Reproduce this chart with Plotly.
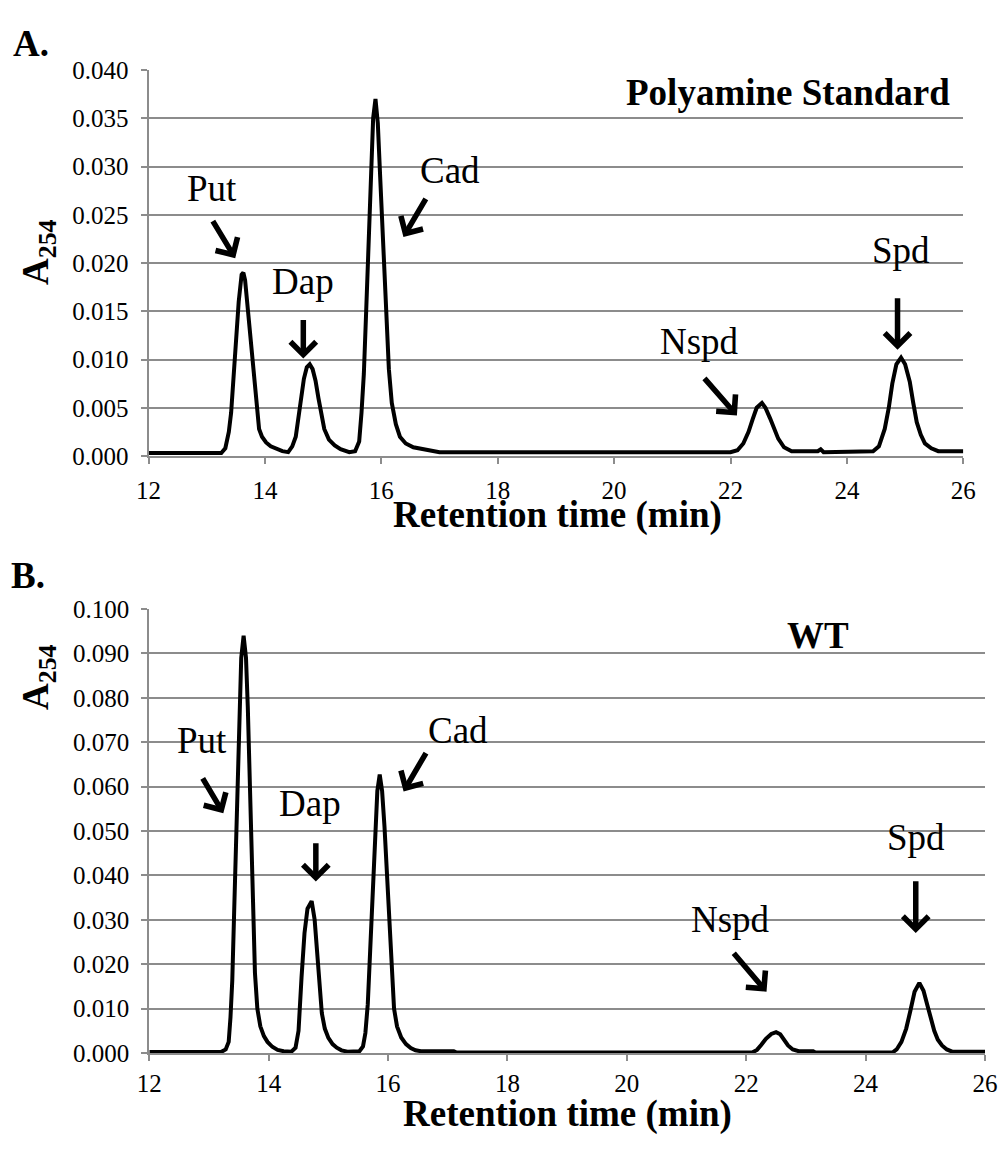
import plotly.graph_objects as go

# ---------------- data ----------------
std_time = [12.0, 13.25, 13.32, 13.38, 13.42, 13.46, 13.50, 13.55, 13.60, 13.63, 13.66, 13.71, 13.76, 13.81,
            13.86, 13.90, 13.95, 14.02, 14.10, 14.20, 14.30, 14.40, 14.47, 14.53, 14.58, 14.62, 14.67, 14.72,
            14.77, 14.82, 14.87, 14.92, 14.97, 15.02, 15.10, 15.20, 15.30, 15.45, 15.55, 15.62, 15.66, 15.70,
            15.74, 15.78, 15.82, 15.86, 15.90, 15.94, 15.98, 16.03, 16.08, 16.13, 16.18, 16.25, 16.32, 16.42,
            16.55, 16.70, 16.85, 17.0, 22.0, 22.12, 22.22, 22.31, 22.38, 22.45, 22.54, 22.60, 22.68, 22.75,
            22.82, 22.92, 23.05, 23.5, 23.55, 23.6, 24.3, 24.45, 24.55, 24.65, 24.72, 24.78, 24.85, 24.93,
            25.00, 25.08, 25.14, 25.20, 25.27, 25.34, 25.45, 25.57, 26.0]
std_abs = [0.0003, 0.0003, 0.0008, 0.0025, 0.0045, 0.0080, 0.0115, 0.0160, 0.0188, 0.0190, 0.0182, 0.0150,
           0.0115, 0.0075, 0.0045, 0.0028, 0.0020, 0.0014, 0.0010, 0.0007, 0.0005, 0.0004, 0.0010, 0.0020,
           0.0040, 0.0060, 0.0080, 0.0092, 0.0095, 0.0090, 0.0078, 0.0060, 0.0042, 0.0028, 0.0017, 0.0011,
           0.0007, 0.0004, 0.0005, 0.0015, 0.0045, 0.0085, 0.0150, 0.0220, 0.0290, 0.0350, 0.0370, 0.0345,
           0.0290, 0.0215, 0.0145, 0.0090, 0.0055, 0.0033, 0.0020, 0.0013, 0.0009, 0.0007, 0.0005, 0.0004,
           0.0004, 0.0006, 0.0013, 0.0025, 0.0038, 0.0050, 0.0055, 0.0050, 0.0039, 0.0027, 0.0018, 0.0009,
           0.0005, 0.0005, 0.0007, 0.0004, 0.0004, 0.0005, 0.0010, 0.0028, 0.0050, 0.0075, 0.0095, 0.0102,
           0.0095, 0.0077, 0.0055, 0.0035, 0.0022, 0.0013, 0.0008, 0.0005, 0.0005]

wt_time = [12.0, 13.2, 13.28, 13.33, 13.36, 13.39, 13.42, 13.45, 13.48, 13.51, 13.54, 13.58, 13.62, 13.65,
           13.68, 13.71, 13.74, 13.77, 13.81, 13.86, 13.92, 13.98, 14.06, 14.15, 14.25, 14.38, 14.45, 14.50,
           14.55, 14.60, 14.65, 14.72, 14.77, 14.81, 14.85, 14.89, 14.94, 15.00, 15.07, 15.14, 15.22, 15.32,
           15.52, 15.58, 15.62, 15.66, 15.70, 15.74, 15.78, 15.82, 15.86, 15.90, 15.94, 15.98, 16.02, 16.06,
           16.10, 16.15, 16.22, 16.30, 16.38, 16.46, 16.55, 17.1, 17.15, 22.1, 22.18, 22.25, 22.33, 22.42,
           22.50, 22.57, 22.64, 22.70, 22.78, 22.88, 23.12, 23.16, 24.45, 24.52, 24.60, 24.68, 24.75, 24.82,
           24.90, 24.97, 25.03, 25.09, 25.15, 25.21, 25.28, 25.36, 25.45, 26.0]
wt_abs = [0.0002, 0.0002, 0.0008, 0.0025, 0.0080, 0.0163, 0.0310, 0.0470, 0.0630, 0.0780, 0.0890, 0.0940,
          0.0890, 0.0780, 0.0630, 0.0470, 0.0310, 0.0180, 0.0100, 0.0060, 0.0038, 0.0025, 0.0014, 0.0007,
          0.0004, 0.0003, 0.0012, 0.0050, 0.0170, 0.0270, 0.0325, 0.0342, 0.0300, 0.0238, 0.0160, 0.0090,
          0.0055, 0.0034, 0.0020, 0.0012, 0.0006, 0.0003, 0.0004, 0.0015, 0.0045, 0.0110, 0.0230, 0.0360,
          0.0500, 0.0590, 0.0627, 0.0590, 0.0510, 0.0400, 0.0280, 0.0170, 0.0100, 0.0060, 0.0035, 0.0020,
          0.0011, 0.0006, 0.0004, 0.0004, 0.0001, 0.0001, 0.0007, 0.0018, 0.0032, 0.0043, 0.0047, 0.0042,
          0.0030, 0.0017, 0.0008, 0.0004, 0.0004, 0.0001, 0.0001, 0.0008, 0.0025, 0.0055, 0.0095, 0.0138,
          0.0158, 0.0140, 0.0110, 0.0078, 0.0050, 0.0030, 0.0017, 0.0008, 0.0003, 0.0003]

x_ticks = [12, 14, 16, 18, 20, 22, 24, 26]
std_y_ticks = [0.000, 0.005, 0.010, 0.015, 0.020, 0.025, 0.030, 0.035, 0.040]
wt_y_ticks = [0.000, 0.010, 0.020, 0.030, 0.040, 0.050, 0.060, 0.070, 0.080, 0.090, 0.100]

peak_names = ["Put", "Dap", "Cad", "Nspd", "Spd"]

# ---------------- figure ----------------
W, H = 1001, 1152
SERIF = "Liberation Serif, Times New Roman, serif"
GRID = "#8c8c8c"
fig = go.Figure()

fig.add_trace(go.Scatter(x=std_time, y=std_abs, mode="lines", line=dict(color="black", width=4),
                         xaxis="x", yaxis="y", showlegend=False, hoverinfo="skip"))
fig.add_trace(go.Scatter(x=wt_time, y=wt_abs, mode="lines", line=dict(color="black", width=4),
                         xaxis="x2", yaxis="y2", showlegend=False, hoverinfo="skip"))

def px2paper(px, py):
    return px / W, 1 - py / H

top_dom_x = [148.5 / W, 963.3 / W]
top_dom_y = [1 - 456 / H, 1 - 70 / H]
bot_dom_x = [149.3 / W, 985 / W]
bot_dom_y = [1 - 1053 / H, 1 - 609 / H]

tickfont = dict(family=SERIF, size=25, color="black")
common_x = dict(range=[12, 26], tickvals=x_ticks, ticktext=[str(v) for v in x_ticks], automargin=False,
                showgrid=False, zeroline=False, showline=True, linecolor=GRID, linewidth=2,
                ticks="outside", ticklen=6, tickcolor=GRID, tickwidth=2, tickfont=tickfont)
common_y = dict(showgrid=True, gridcolor=GRID, gridwidth=2, zeroline=False, showline=True, automargin=False,
                linecolor=GRID, linewidth=2, ticks="outside", ticklen=6, tickcolor=GRID, tickwidth=2,
                tickfont=tickfont, ticklabelstandoff=7)

fig.update_layout(
    width=W, height=H, margin=dict(l=0, r=0, t=0, b=0, autoexpand=False),
    paper_bgcolor="white", plot_bgcolor="white",
    xaxis=dict(domain=top_dom_x, anchor="y", ticklabelstandoff=5, **common_x),
    yaxis=dict(domain=top_dom_y, anchor="x", range=[0, 0.040], tickvals=std_y_ticks,
               ticktext=[f"{v:.3f}" for v in std_y_ticks], **common_y),
    xaxis2=dict(domain=bot_dom_x, anchor="y2", ticklabelstandoff=1, **common_x),
    yaxis2=dict(domain=bot_dom_y, anchor="x2", range=[0, 0.100], tickvals=wt_y_ticks,
                ticktext=[f"{v:.3f}" for v in wt_y_ticks], **common_y),
)

ann = []
lab_font = dict(family=SERIF, size=37, color="black")
bold_font = dict(family=SERIF, size=37, color="black")

# panel letters, axis titles
for txt, (px, py) in [("<b>A.</b>", (31, 44)), ("<b>B.</b>", (28, 575)),
                      ("<b>Retention time (min)</b>", (557, 515)),
                      ("<b>Retention time (min)</b>", (567, 1114))]:
    xp, yp = px2paper(px, py)
    ann.append(dict(text=txt, x=xp, y=yp, xref="paper", yref="paper", showarrow=False,
                    font=bold_font, xanchor="center", yanchor="middle"))
for (px, py) in [(38, 252), (38, 677)]:
    xp, yp = px2paper(px, py)
    ann.append(dict(text="<b>A<sub>254</sub></b>", x=xp, y=yp, xref="paper", yref="paper",
                    showarrow=False, font=bold_font, textangle=-90, xanchor="center", yanchor="middle"))

# sample titles
ann.append(dict(text="<b>Polyamine Standard</b>", x=22.99, y=0.0377, xref="x", yref="y",
                showarrow=False, font=bold_font))
ann.append(dict(text="<b>WT</b>", x=23.2, y=0.0941, xref="x2", yref="y2",
                showarrow=False, font=bold_font))

# peak labels (text position) and arrows (tail -> head)
std_label_pos = [(13.09, 0.0277), (14.65, 0.0181), (17.18, 0.0296), (21.47, 0.0119), (24.93, 0.0213)]
std_arrows = [((13.09, 0.0245), (13.49, 0.0205)), ((14.66, 0.01425), (14.66, 0.0101)),
              ((16.78, 0.0268), (16.38, 0.0227)), ((21.53, 0.0082), (22.11, 0.0042)),
              ((24.87, 0.0165), (24.87, 0.0110))]
wt_label_pos = [(12.88, 0.0703), (14.69, 0.0563), (17.17, 0.0727), (21.73, 0.0300), (24.84, 0.0486)]
wt_arrows = [((12.88, 0.0622), (13.24, 0.0540)), ((14.79, 0.0476), (14.79, 0.0386)),
             ((16.65, 0.0679), (16.26, 0.0589)), ((21.77, 0.0228), (22.34, 0.0138)),
             ((24.84, 0.0390), (24.84, 0.0270))]

for xr, yr, labels, arrows in [("x", "y", std_label_pos, std_arrows), ("x2", "y2", wt_label_pos, wt_arrows)]:
    for name, (lx, ly), ((tx, ty), (hx, hy)) in zip(peak_names, labels, arrows):
        ann.append(dict(text=name, x=lx, y=ly, xref=xr, yref=yr, showarrow=False, font=lab_font))
        ann.append(dict(text="", x=hx, y=hy, ax=tx, ay=ty, xref=xr, yref=yr, axref=xr, ayref=yr,
                        showarrow=True, arrowhead=4, arrowsize=0.9, arrowwidth=5.5, arrowcolor="black"))

fig.update_layout(annotations=ann)
fig.write_html("out.html", config={"displayModeBar": False},
               post_script="document.body.style.margin='0';document.body.style.overflow='hidden';")
